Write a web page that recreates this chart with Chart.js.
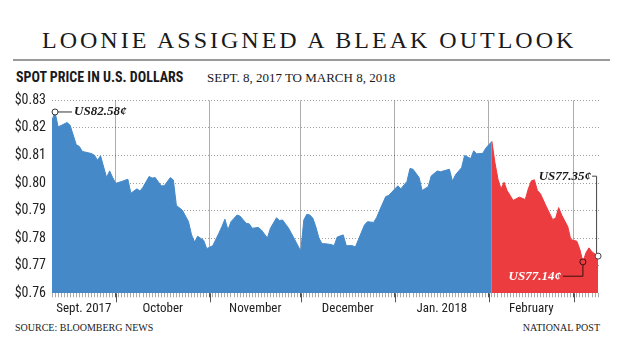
<!DOCTYPE html>
<html><head><meta charset="utf-8">
<script src="https://cdn.jsdelivr.net/npm/chart.js@4/dist/chart.umd.min.js"></script>
<style>
body{margin:0;width:637px;height:361px;background:#fff;position:relative;overflow:hidden}
.t{position:absolute;white-space:nowrap;line-height:1;color:#1a1a1a}
#title{left:42px;top:27.6px;font-size:24px;font-family:"Liberation Serif","DejaVu Serif",serif;letter-spacing:3px}
#rule{position:absolute;left:13px;top:58.5px;width:597px;height:2px;background:#9a9a9a}
#sub{left:16px;top:69.8px;font-weight:bold;font-size:14px;font-family:"Liberation Sans Narrow","Roboto Condensed","Arial Narrow",Roboto,sans-serif}
#date{left:207px;top:70.8px;font-size:13px;font-family:"Liberation Serif",serif}
#src{left:15px;top:323.3px;font-size:10px;font-family:"Liberation Serif",serif}
#np{right:37px;top:323.3px;font-size:10px;font-family:"Liberation Serif",serif}
#wrap{position:absolute;left:0;top:86px;width:637px;height:234px}
</style></head>
<body>
<div class="t" id="title">LOONIE ASSIGNED A BLEAK OUTLOOK</div>
<div id="rule"></div>
<div class="t" id="sub">SPOT PRICE IN U.S. DOLLARS</div>
<div class="t" id="date">SEPT. 8, 2017 TO MARCH 8, 2018</div>
<div id="wrap"><canvas id="c" width="637" height="234"></canvas></div>
<div class="t" id="src">SOURCE: BLOOMBERG NEWS</div>
<div class="t" id="np">NATIONAL POST</div>
<script>
// ---- data (x = day position on the chart's daily axis) ----
const days = [
  2,3,4,5,7,8,10,11,12,15,16,17,18,20,21,22,23,25,27,28,30,31,32,34,35,36,38,39,41,42,43,45,
  47,48,49,50,52,53,55,57,58,59,60,61,63,64,66,67,68,70,71,73,74,76,77,78,80,82,84,
  85,86,87,88,89,90,91,92,94,95,96,98,99,101,102,103,105,106,108,109,110,112,113,114,
  116,117,119,120,121,123,124,126,127,129,130,131,133,134,135,137,138,140,141,142,144,145,147,
  148,149,150,151,152,154,155,156,157,158,159,160,161,162,163,165,167,168,169,170,172,173,175,176,177,178,179,180,182
];
const prices = [
  0.8228,0.8258,0.8204,0.8209,0.8220,0.8209,0.8139,0.8133,0.8115,0.8107,0.8101,0.8083,0.8099,0.8020,0.8044,0.8020,0.7999,0.8006,0.8014,0.7963,0.7979,0.7971,0.7985,0.8024,0.8018,0.8020,0.7990,0.7990,0.8020,0.8011,0.7919,0.7901,
  0.7860,0.7812,0.7786,0.7807,0.7792,0.7762,0.7773,0.7818,0.7842,0.7869,0.7830,0.7860,0.7884,0.7880,0.7854,0.7852,0.7836,0.7839,0.7830,0.7801,0.7836,0.7874,0.7864,0.7866,0.7836,0.7795,0.7753,
  0.7866,0.7887,0.7884,0.7872,0.7840,0.7800,0.7780,0.7780,0.7777,0.7773,0.7804,0.7812,0.7773,0.7773,0.7768,0.7795,0.7848,0.7860,0.7857,0.7875,0.7901,0.7951,0.7955,0.7967,
  0.7990,0.7979,0.8006,0.8053,0.8050,0.8020,0.7973,0.7987,0.8026,0.8044,0.8041,0.8044,0.8050,0.8007,0.8030,0.8056,0.8100,0.8089,0.8117,0.8106,0.8108,0.8127,0.8151,
  0.8074,0.8014,0.7979,0.8003,0.7973,0.7937,0.7943,0.7949,0.7945,0.7940,0.7979,0.8008,0.8012,0.7973,0.7961,0.7913,0.7868,0.7872,0.7911,0.7884,0.7842,0.7795,0.7789,0.7759,0.7714,0.7747,0.7765,0.7750,0.7735
];
const monthStarts = [23,54,84,115,146,174];
const monthLabels = ['Sept. 2017','October','November','December','Jan. 2018','February'];
const yTicks = [0.76,0.77,0.78,0.79,0.80,0.81,0.82,0.83];
const noteHigh = 'US82.58\u00a2', noteLast = 'US77.35\u00a2', noteLow = 'US77.14\u00a2';

const X_MIN = days[0], X_MAX = 182.3;
const BLUE = '#4589c9', RED = '#ec3c3f';

const pts = days.map((d,i)=>({x:d,y:prices[i]}));
const splitIdx = days.findIndex(d=>d>=monthStarts[4]);
const bluePts = pts.slice(0, splitIdx+1);
const redPts = pts.slice(splitIdx);

const labelPos = {};
monthLabels.forEach((l,i)=>{
  const s = i===0 ? X_MIN : monthStarts[i-1];
  labelPos[(s+monthStarts[i])/2] = l;
});

const narrow = '"Liberation Sans Narrow","Roboto Condensed","Arial Narrow",Roboto,sans-serif';

const notes = {
  id:'notes',
  afterDraw(chart){
    const ctx = chart.ctx, xs = chart.scales.x, ys = chart.scales.y;
    ctx.save();
    // longer month boundary ticks
    ctx.strokeStyle = '#555'; ctx.lineWidth = 1;
    monthStarts.forEach(m=>{
      const px = Math.round(xs.getPixelForValue(m))+0.5;
      ctx.beginPath(); ctx.moveTo(px, ys.bottom); ctx.lineTo(px, ys.bottom+9); ctx.stroke();
    });
    const P = i => ({x: xs.getPixelForValue(days[i]), y: ys.getPixelForValue(prices[i])});
    ctx.font = 'bold italic 13px "Liberation Serif", "DejaVu Serif", serif';
    ctx.textBaseline = 'middle';
    // high
    let hi = 0; prices.forEach((v,i)=>{ if(v>prices[hi]) hi=i; });
    const h = P(hi);
    ctx.strokeStyle = '#333';
    ctx.beginPath(); ctx.moveTo(h.x+3, h.y); ctx.lineTo(h.x+17, h.y); ctx.stroke();
    ctx.fillStyle = '#1a1a1a'; ctx.textAlign='left';
    ctx.fillText(noteHigh, h.x+19, h.y);
    ctx.beginPath(); ctx.arc(h.x, h.y, 3, 0, Math.PI*2); ctx.fillStyle='#fff'; ctx.fill(); ctx.stroke();
    // last
    const li = prices.length-1; const l = P(li);
    const ly = ys.getPixelForValue(0.8025);
    ctx.strokeStyle = '#444';
    ctx.beginPath(); ctx.moveTo(l.x-6, ly); ctx.lineTo(l.x-1.5, ly); ctx.lineTo(l.x-1.5, l.y-3); ctx.stroke();
    ctx.fillStyle = '#1a1a1a'; ctx.textAlign='right';
    ctx.fillText(noteLast, l.x-7, ly);
    ctx.beginPath(); ctx.arc(l.x, l.y, 3, 0, Math.PI*2); ctx.fillStyle='#fff'; ctx.fill(); ctx.stroke();
    // low (in final stretch)
    let lo = splitIdx; for(let i=splitIdx;i<prices.length;i++){ if(prices[i]<prices[lo]) lo=i; }
    const w = P(lo);
    const wy = ys.getPixelForValue(0.7662);
    ctx.strokeStyle = '#3a1010';
    ctx.beginPath(); ctx.moveTo(w.x-20, wy); ctx.lineTo(w.x, wy); ctx.lineTo(w.x, w.y+3); ctx.stroke();
    ctx.fillStyle = '#fff'; ctx.textAlign='right';
    ctx.fillText(noteLow, w.x-22, wy);
    ctx.beginPath(); ctx.arc(w.x, w.y, 3, 0, Math.PI*2); ctx.fillStyle=RED; ctx.fill(); ctx.stroke();
    ctx.restore();
  }
};

new Chart(document.getElementById('c'), {
  type:'line',
  data:{datasets:[
    {data:bluePts, backgroundColor:BLUE, borderColor:BLUE, borderWidth:1, fill:'start', pointRadius:0, tension:0},
    {data:redPts, backgroundColor:RED, borderColor:RED, borderWidth:1, fill:'start', pointRadius:0, tension:0}
  ]},
  options:{
    responsive:false, animation:false, devicePixelRatio:1,
    layout:{padding:{top:10.7,right:38,left:0,bottom:0}},
    plugins:{legend:{display:false}, tooltip:{enabled:false}},
    scales:{
      x:{
        type:'linear', min:X_MIN, max:X_MAX, z:1,
        afterBuildTicks(s){
          const set = new Set();
          for(let d=Math.ceil(X_MIN); d<=Math.floor(X_MAX); d++) set.add(d);
          Object.keys(labelPos).forEach(k=>set.add(+k));
          s.ticks = [...set].sort((a,b)=>a-b).map(v=>({value:v}));
        },
        afterFit(s){ s.height = 26.7; },
        border:{display:false},
        grid:{
          color:c=> monthStarts.includes(c.tick && c.tick.value) ? 'rgba(0,0,0,0.32)' : 'rgba(0,0,0,0)',
          tickColor:c=>{ const v=c.tick && c.tick.value; if(monthStarts.includes(v)) return '#555'; return Number.isInteger(v) ? '#aaa' : 'rgba(0,0,0,0)'; },
          tickLength:4, lineWidth:1
        },
        ticks:{
          autoSkip:false, maxRotation:0, minRotation:0, padding:4,
          color:'#222', font:{family:narrow, size:13},
          callback:v=> labelPos[v] || ''
        }
      },
      y:{
        type:'linear', min:yTicks[0], max:yTicks[yTicks.length-1], z:1,
        afterBuildTicks(s){ s.ticks = yTicks.map(v=>({value:v})); },
        afterFit(s){ s.width = 52; },
        border:{display:false, dash:[1,2]},
        grid:{color:c=> (c.tick && Math.abs(c.tick.value-yTicks[0])<1e-6) ? 'rgba(0,0,0,0)' : 'rgba(0,0,0,0.38)', drawTicks:false, lineWidth:1},
        ticks:{padding:6, color:'#222', font:{family:narrow, size:14}, callback:v=>'$'+Number(v).toFixed(2)}
      }
    }
  },
  plugins:[notes]
});
</script>
</body></html>
